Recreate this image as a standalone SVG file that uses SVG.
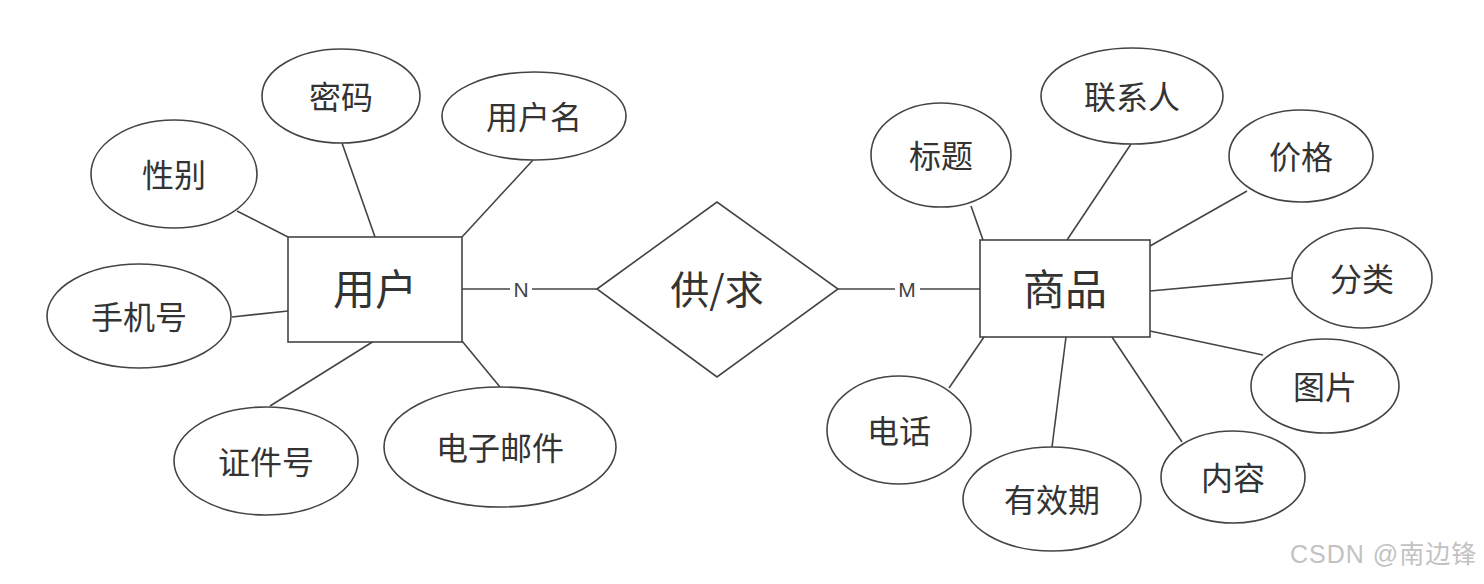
<svg xmlns="http://www.w3.org/2000/svg" width="1484" height="584" viewBox="0 0 1484 584">
<style>
.s{fill:#fff;stroke:#444;stroke-width:1.6}
.c line{stroke:#444;stroke-width:1.6}
text{font-family:"Noto Sans CJK SC","Noto Sans",sans-serif;fill:#333;text-anchor:middle}
.a{font-size:32px}
.e{font-size:42px}
.l{font-size:21px;font-family:"Liberation Sans",Arial,sans-serif;fill:#444}
.w{font-size:25px;fill:#c2c2c2;text-anchor:start;letter-spacing:1px;font-family:"Liberation Sans","Noto Sans CJK SC",sans-serif}
</style>
<rect width="1484" height="584" fill="#fff"/>
<g class="c" id="connectors">
<line x1="237" y1="211" x2="288" y2="237"/>
<line x1="342" y1="143" x2="375" y2="237"/>
<line x1="533" y1="160" x2="462" y2="237"/>
<line x1="232" y1="317" x2="288" y2="311"/>
<line x1="270" y1="406" x2="374" y2="341"/>
<line x1="500" y1="387" x2="462" y2="341"/>
<line x1="462" y1="289" x2="510" y2="289"/>
<line x1="532" y1="289" x2="597" y2="289"/>
<line x1="838" y1="289" x2="895" y2="289"/>
<line x1="920" y1="289" x2="980" y2="289"/>
<line x1="971" y1="206" x2="983" y2="240"/>
<line x1="1131" y1="144" x2="1067" y2="240"/>
<line x1="1247" y1="191" x2="1150" y2="246"/>
<line x1="1292" y1="278" x2="1150" y2="291"/>
<line x1="1263" y1="355" x2="1150" y2="331"/>
<line x1="1182" y1="442" x2="1112" y2="337"/>
<line x1="1052" y1="447" x2="1066" y2="337"/>
<line x1="949" y1="388" x2="984" y2="337"/>
<text class="l" x="521" y="297">N</text>
<text class="l" x="907" y="297">M</text>
</g>
<g id="user"><rect class="s" x="288" y="237" width="174" height="105"/><text class="e" x="375" y="305">用户</text></g>
<g id="password"><ellipse class="s" cx="341" cy="96" rx="79" ry="47"/><text class="a" x="341" y="109">密码</text></g>
<g id="username"><ellipse class="s" cx="534" cy="116" rx="92" ry="44"/><text class="a" x="534" y="129">用户名</text></g>
<g id="gender"><ellipse class="s" cx="174" cy="174" rx="83" ry="54"/><text class="a" x="174" y="187">性别</text></g>
<g id="phone"><ellipse class="s" cx="139" cy="316" rx="92" ry="52"/><text class="a" x="139" y="329">手机号</text></g>
<g id="idno"><ellipse class="s" cx="266" cy="461" rx="92" ry="54"/><text class="a" x="266" y="474">证件号</text></g>
<g id="email"><ellipse class="s" cx="500" cy="447" rx="116" ry="60"/><text class="a" x="500" y="460">电子邮件</text></g>
<g id="supply"><polygon class="s" points="597,289 717,202 838,289 717,377"/><text class="e" x="717" y="304" style="font-size:39px">供/求</text></g>
<g id="goods"><rect class="s" x="980" y="240" width="170" height="97"/><text class="e" x="1065" y="305">商品</text></g>
<g id="title"><ellipse class="s" cx="941" cy="155" rx="70" ry="52"/><text class="a" x="941" y="168">标题</text></g>
<g id="contact"><ellipse class="s" cx="1132" cy="96" rx="91" ry="48"/><text class="a" x="1132" y="109">联系人</text></g>
<g id="price"><ellipse class="s" cx="1301" cy="156" rx="72" ry="46"/><text class="a" x="1301" y="169">价格</text></g>
<g id="category"><ellipse class="s" cx="1362" cy="278" rx="70" ry="50"/><text class="a" x="1362" y="291">分类</text></g>
<g id="picture"><ellipse class="s" cx="1325" cy="386" rx="74" ry="47"/><text class="a" x="1325" y="399">图片</text></g>
<g id="content"><ellipse class="s" cx="1233" cy="477" rx="72" ry="46"/><text class="a" x="1233" y="490">内容</text></g>
<g id="validity"><ellipse class="s" cx="1052" cy="499" rx="89" ry="52"/><text class="a" x="1052" y="512">有效期</text></g>
<g id="tel"><ellipse class="s" cx="899" cy="430" rx="72" ry="54"/><text class="a" x="899" y="443">电话</text></g>
<text class="w" x="1290" y="563">CSDN @南边锋</text>
</svg>
